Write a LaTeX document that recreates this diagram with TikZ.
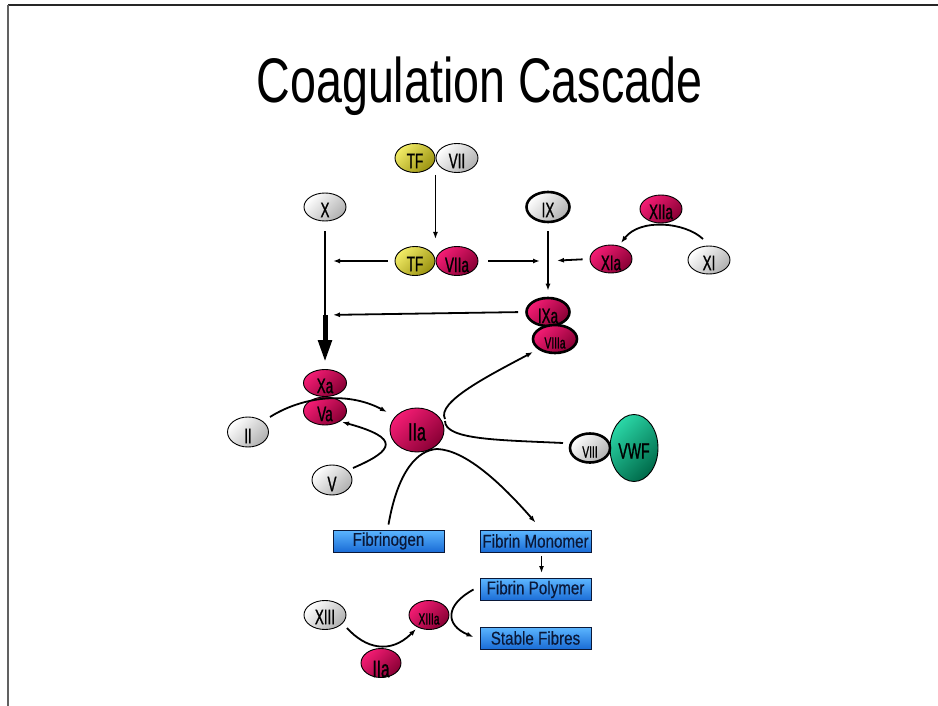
\documentclass[tikz,border=0pt]{standalone}
\usepackage{fontspec}
\setmainfont{Liberation Sans}
\newfontfamily\titlefont[FakeStretch=0.74]{Liberation Sans}
\newfontfamily\labfont[FakeStretch=0.64,FakeBold=1]{Liberation Sans}
\newfontfamily\boxfont[FakeStretch=0.82,FakeBold=0.3]{Liberation Sans}
\usetikzlibrary{shapes.geometric,arrows.meta,calc}

\definecolor{redL}{HTML}{F41C74}
\definecolor{redM}{HTML}{DA005A}
\definecolor{redD}{HTML}{880034}
\definecolor{yelL}{HTML}{F2EC66}
\definecolor{yelM}{HTML}{D8D03A}
\definecolor{yelD}{HTML}{9A9210}
\definecolor{grnL}{HTML}{2AD6A6}
\definecolor{grnM}{HTML}{00B282}
\definecolor{grnD}{HTML}{006A4A}
\definecolor{bluL}{HTML}{5CB6FF}
\definecolor{bluD}{HTML}{1A6CD6}
\definecolor{navy}{HTML}{0A1838}

% label sitting a little below the centre of its ellipse
\newcommand\lowr[2][3pt]{\raisebox{-#1}[\height][\depth]{#2}}

\tikzset{
  prot/.style={ellipse, draw=black, line width=0.9pt, inner sep=0pt,
    font=\labfont\fontsize{21}{21}\selectfont},
  thickrim/.style={line width=2.6pt},
  grayp/.style={prot, top color=white, middle color=gray!12, bottom color=gray!62, shading angle=45},
  redp/.style={prot, top color=redL, middle color=redM, bottom color=redD, shading angle=45},
  yelp/.style={prot, top color=yelL, middle color=yelM, bottom color=yelD, shading angle=45},
  grnp/.style={prot, top color=grnL, middle color=grnM, bottom color=grnD, shading angle=45},
  sz/.style 2 args={minimum width=#1pt, minimum height=#2pt},
  fibbox/.style={rectangle, draw=navy, line width=0.9pt, top color=bluL, bottom color=bluD,
    minimum width=111pt, minimum height=22pt, inner sep=0pt, text=navy,
    font=\boxfont\fontsize{18.5}{18.5}\selectfont},
  arr/.style={line width=1.8pt, -{Latex[length=7pt,width=5pt]}},
  link/.style={line width=1.8pt},
}

\begin{document}
\begin{tikzpicture}[x=1pt,y=-1pt]
\useasboundingbox (0,0) rectangle (938,706);

% slide frame
\draw[line width=2pt, black!85] (8,5) -- (938,5);
\draw[line width=1.6pt, black!62] (8,5) -- (8,706);

% title
\node[anchor=base, font=\titlefont\fontsize{63}{63}\selectfont, inner sep=0pt]
  (title) at (479.5,103) {Coagulation Cascade};

% extrinsic start
\node[grayp, sz={42}{29}] (VII) at (457,158) {\lowr{VII}};
\node[yelp,  sz={40}{29}] (TFa) at (415,158) {\lowr{TF}};
\node[redp,  sz={42}{29}] (VIIa) at (457,261) {\lowr[4pt]{VIIa}};
\node[yelp,  sz={40}{29}] (TFb) at (415,261) {\lowr{TF}};

% factors X, IX and the contact branch
\node[grayp, sz={42}{28}] (X)  at (325,207) {\lowr{X}};
\node[grayp, thickrim, sz={43}{30}] (IX) at (548,207) {\lowr{IX}};
\node[redp,  sz={42}{28}] (XIIa) at (661,209) {\lowr{XIIa}};
\node[redp,  sz={42}{28}] (XIa)  at (611,259) {\lowr[4pt]{XIa}};
\node[grayp, sz={42}{28}] (XI)   at (709,260) {\lowr{XI}};

% tenase complex
\node[redp, thickrim, sz={43}{28}] (IXa) at (548,312) {\lowr[4pt]{IXa}};
\node[redp, thickrim, sz={44}{28}, font=\labfont\fontsize{16}{16}\selectfont] (VIIIa) at (555,339) {\lowr[4pt]{VIIIa}};

% prothrombinase and thrombin
\node[redp, sz={43}{27}] (Xa) at (325,383) {\lowr{Xa}};
\node[redp, sz={43}{28}] (Va) at (325,411) {\lowr{Va}};
\node[grayp, sz={41}{30}] (II) at (248,432) {\lowr[4pt]{II}};
\node[grayp, sz={40}{30}] (V)  at (332,480) {\lowr[4pt]{V}};
\node[redp, sz={54}{44}, font=\labfont\fontsize{25}{25}\selectfont] (IIa) at (417,430) {\lowr[2pt]{IIa}};

% factor VIII carried by von Willebrand factor
\node[grnp, sz={48}{67}, font=\labfont\fontsize{22}{22}\selectfont] (VWF) at (634,448) {\lowr[3pt]{VWF}};
\node[grayp, thickrim, sz={40}{29}, font=\labfont\fontsize{16}{16}\selectfont] (VIII) at (590,448) {\lowr[4pt]{VIII}};

% fibrin formation
\node[fibbox] (fibg) at (388.5,541) {Fibrinogen};
\node[fibbox] (mono) at (535.5,541) {Fibrin Monomer};
\node[fibbox] (poly) at (535.5,589.5) {Fibrin Polymer};
\node[fibbox] (stab) at (535.5,638) {Stable Fibres};

% factor XIII activation
\node[grayp, sz={42}{29}] (XIII) at (325,615) {\lowr[2pt]{XIII}};
\node[redp,  sz={40}{29}, font=\labfont\fontsize{24}{24}\selectfont] (IIb) at (381,663) {\lowr[6pt]{IIa}};
\node[redp,  sz={40}{29}, font=\labfont\fontsize{16}{16}\selectfont] (XIIIa) at (429,615) {\lowr[4pt]{XIIIa}};

% junction points on the vertical paths
\coordinate (jX1) at (325,261);
\coordinate (jX2) at (325,315);
\coordinate (j9)  at (548,261);

% ---- connectors ----
\draw[arr] ($(TFa.east)+(0,17)$) -- ($(TFb.east)+(0,-22)$);
\draw[arr, shorten <=7pt, shorten >=8pt] (TFb.west) -- (jX1);
\draw[arr, shorten <=10pt, shorten >=8pt] (VIIa.east) -- (j9);
\draw[arr, shorten <=7pt, shorten >=9pt] (XIa.west) -- (j9);
\draw[arr, shorten <=7pt, shorten >=8pt] (IXa.west) -- (jX2);
\draw[arr, shorten <=8pt, shorten >=6pt] (IX.south) -- (IXa.north);

% X down to Xa, heavy after the tenase input
\draw[link, shorten <=10pt] (X.south) -- (jX2);
\draw[line width=5pt, -{Triangle[length=22pt,width=13pt]}, shorten >=7pt] (jX2) -- (Xa.north);

% XI activated by XIIa
\draw[arr] ($(XI)+(-6,-21)$) .. controls (685,222) and (640,218) .. ($(XIa)+(10,-16)$);

% prothrombin to thrombin through Xa/Va
\draw[arr] ($(II)+(22,-15)$) .. controls (300,398) and (345,390) .. ($(IIa)+(-30,-18)$);
% V activated by thrombin
\draw[arr] ($(V)+(21,-12)$) .. controls (395,450) and (400,438) .. ($(Va)+(17,11)$);
% VIII released from VWF and activated by thrombin
\draw[arr] ($(IIa)+(28,-11)$) .. controls (436,402) and (490,375) .. ($(VIIIa)+(-22,13)$);
\draw[link] ($(IIa)+(28,-9)$) .. controls (445,440) and (500,440) .. ($(VIII)+(-27,-5)$);
% fibrinogen to fibrin monomer
\draw[arr] ($(fibg.north)+(0,-5)$) .. controls (398,470) and (418,450) .. ($(IIa)+(20,19)$)
  .. controls (465,450) and (500,482) .. ($(mono.north)+(0,-7)$);
\draw[arr] ($(mono.south)+(6,4)$) -- ($(poly.north)+(6,-5)$);
% polymer stabilised by XIIIa
\draw[arr] ($(poly.west)+(-6,0)$) .. controls (445,605) and (445,625) .. ($(stab.west)+(-6,-1)$);
% XIII activated by thrombin
\draw[arr] ($(XIII)+(22,13)$) .. controls (365,648) and (390,655) .. ($(XIIIa)+(-13,14)$);
\end{tikzpicture}
\end{document}
